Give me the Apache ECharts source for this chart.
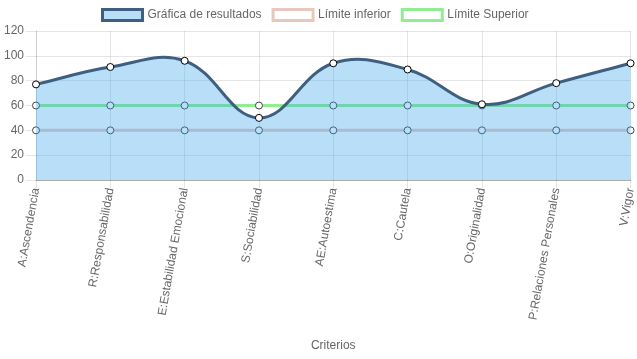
<!DOCTYPE html>
<html><head><meta charset="utf-8">
<script src="https://cdn.jsdelivr.net/npm/echarts@6/dist/echarts.min.js"></script>
<style>html,body{margin:0;padding:0;background:#fff}#c{width:637px;height:359px}</style>
</head><body><div id="c"></div>
<script>
const categories = ["A:Ascendencia","R:Responsabilidad","E:Estabilidad Emocional","S:Sociabilidad","AE:Autoestima","C:Cautela","O:Originalidad","P:Relaciones Personales","V:Vigor"];
const resultados = [77, 91, 96, 50, 94, 89, 61, 78, 94];
const limiteInferior = [40, 40, 40, 40, 40, 40, 40, 40, 40];
const limiteSuperior = [60, 60, 60, 60, 60, 60, 60, 60, 60];
const yTicks = {min: 0, max: 120, interval: 20};

const font = 'Liberation Sans, Arial, Helvetica, sans-serif';
const lineColor = '#3e5f80';
const fillColor = 'rgba(54,162,235,0.35)';
const tension = 0.4;

// cubic spline through the points (pixel space), like a tension-based bezier
function curvePath(pts) {
  const n = pts.length;
  const cps = pts.map(function (cur, i) {
    const prev = pts[i - 1] || cur, next = pts[i + 1] || cur;
    const d01 = Math.hypot(cur[0] - prev[0], cur[1] - prev[1]);
    const d12 = Math.hypot(next[0] - cur[0], next[1] - cur[1]);
    let s01 = d01 / (d01 + d12), s12 = d12 / (d01 + d12);
    if (!isFinite(s01)) s01 = 0;
    if (!isFinite(s12)) s12 = 0;
    const fa = tension * s01, fb = tension * s12;
    return {
      p: [cur[0] - fa * (next[0] - prev[0]), cur[1] - fa * (next[1] - prev[1])],
      n: [cur[0] + fb * (next[0] - prev[0]), cur[1] + fb * (next[1] - prev[1])]
    };
  });
  let d = 'M' + pts[0][0] + ' ' + pts[0][1];
  for (let i = 1; i < n; i++) {
    d += ' C' + cps[i - 1].n[0] + ' ' + cps[i - 1].n[1] + ' ' + cps[i].p[0] + ' ' + cps[i].p[1] + ' ' + pts[i][0] + ' ' + pts[i][1];
  }
  return d;
}

const chart = echarts.init(document.getElementById('c'));
chart.setOption({
  animation: false,
  legend: {
    top: 3, left: 96, itemWidth: 40, itemHeight: 11, itemGap: 10,
    icon: 'rect',
    textStyle: {color: '#666', fontSize: 12, fontFamily: font},
    data: [
      {name: 'Gráfica de resultados', itemStyle: {color: fillColor, borderColor: lineColor, borderWidth: 3}},
      {name: 'Límite inferior', itemStyle: {color: '#fff', borderColor: 'rgb(232,200,190)', borderWidth: 3}},
      {name: 'Límite Superior', itemStyle: {color: '#fff', borderColor: 'rgb(144,238,144)', borderWidth: 3}}
    ]
  },
  grid: {left: 36, right: 4, top: 31, bottom: 179},
  xAxis: {
    type: 'category', data: categories, boundaryGap: false,
    name: 'Criterios', nameLocation: 'middle', nameGap: 160,
    nameTextStyle: {color: '#666', fontSize: 12, fontFamily: font},
    axisLine: {lineStyle: {color: 'rgba(0,0,0,0.25)'}},
    axisTick: {show: true, length: 8, lineStyle: {color: 'rgba(0,0,0,0.1)'}},
    axisLabel: {rotate: 80, color: '#666', fontSize: 12, fontFamily: font, margin: 8, interval: 0},
    splitLine: {show: true, lineStyle: {color: 'rgba(0,0,0,0.1)'}}
  },
  yAxis: {
    type: 'value', min: yTicks.min, max: yTicks.max, interval: yTicks.interval,
    axisLine: {show: true, lineStyle: {color: 'rgba(0,0,0,0.1)'}},
    axisTick: {show: true, length: 10, lineStyle: {color: 'rgba(0,0,0,0.1)'}},
    axisLabel: {color: '#666', fontSize: 12, fontFamily: font, margin: 12},
    splitLine: {show: true, lineStyle: {color: 'rgba(0,0,0,0.1)'}}
  },
  series: [
    {
      name: 'Gráfica de resultados', type: 'custom', z: 5,
      data: resultados.map(function (v, i) { return [i, v]; }),
      encode: {x: 0, y: 1},
      renderItem: function (params, api) {
        if (params.dataIndex !== 0) return null;
        const pts = resultados.map(function (v, i) { return api.coord([i, v]); });
        const base = api.coord([0, yTicks.min])[1];
        const line = curvePath(pts);
        const area = line + ' L' + pts[pts.length - 1][0] + ' ' + base + ' L' + pts[0][0] + ' ' + base + ' Z';
        return {
          type: 'group',
          children: [
            {type: 'path', shape: {pathData: area}, style: {fill: fillColor, stroke: null}},
            {type: 'path', shape: {pathData: line}, style: {fill: null, stroke: lineColor, lineWidth: 3}}
          ]
        };
      }
    },
    {
      name: 'Gráfica de resultados', type: 'line', data: resultados, z: 6,
      symbol: 'circle', symbolSize: 7, showSymbol: true,
      lineStyle: {width: 0, opacity: 0},
      itemStyle: {color: '#fff', borderColor: '#000', borderWidth: 1}
    },
    {
      name: 'Límite inferior', type: 'line', data: limiteInferior, z: 2,
      symbol: 'circle', symbolSize: 7,
      lineStyle: {color: 'rgb(232,200,190)', width: 3},
      itemStyle: {color: '#fff', borderColor: '#444', borderWidth: 1}
    },
    {
      name: 'Límite Superior', type: 'line', data: limiteSuperior, z: 2,
      symbol: 'circle', symbolSize: 7,
      lineStyle: {color: 'rgb(144,238,144)', width: 3},
      itemStyle: {color: '#fff', borderColor: '#444', borderWidth: 1}
    }
  ]
});
</script></body></html>
